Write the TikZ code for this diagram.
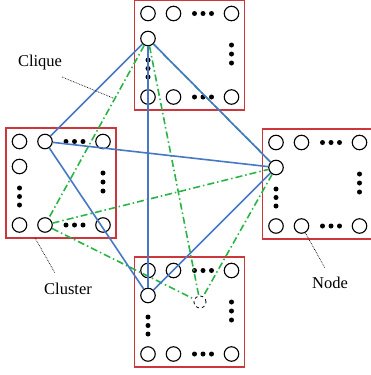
\documentclass[tikz,border=0pt]{standalone}
\usepackage{fontspec}
\setmainfont{Liberation Serif}
\definecolor{boxred}{RGB}{205,55,60}
\definecolor{eblue}{RGB}{70,120,195}
\definecolor{egreen}{RGB}{40,180,70}
\tikzset{
  cnode/.style={circle,draw=black,line width=1.1pt,minimum size=14.5pt,inner sep=0pt,fill=white},
  hidnode/.style={circle,draw=black,dashed,line width=0.8pt,minimum size=12pt,inner sep=0pt},
  dotn/.style={circle,fill=black,minimum size=5pt,inner sep=0pt},
  clbox/.style={draw=boxred,line width=1.4pt},
  bedge/.style={draw=eblue,line width=1.6pt},
  gedge/.style={draw=egreen,line width=1.6pt,dash pattern=on 7pt off 3pt on 1.5pt off 3pt},
  leader/.style={draw=black,densely dotted,line width=0.7pt},
  lbl/.style={font=\fontsize{16.5}{18}\selectfont,inner sep=0pt}
}
\newcommand{\mycluster}[3]{%
  \draw[clbox] (#2,#3) rectangle +(110,110);
  \foreach \dx in {60,68.5,77} {
    \node[dotn] at (#2+\dx,#3+13.5) {};
    \node[dotn] at (#2+\dx,#3+97) {};
  }
  \foreach \dy in {60,68.5,77} \node[dotn] at (#2+13.5,#3+\dy) {};
  \foreach \dy in {45,54,63} \node[dotn] at (#2+97,#3+\dy) {};
  \node[cnode] (#1-a) at (#2+13.5,#3+13.5) {};
  \node[cnode] (#1-b) at (#2+39,#3+13.5) {};
  \node[cnode] (#1-c) at (#2+97,#3+13.5) {};
  \node[cnode] (#1-d) at (#2+13.5,#3+38.5) {};
  \node[cnode] (#1-e) at (#2+13.5,#3+97) {};
  \node[cnode] (#1-f) at (#2+39,#3+97) {};
  \node[cnode] (#1-g) at (#2+97,#3+97) {};
}
\begin{document}
\begin{tikzpicture}[x=1pt,y=-1pt]
\useasboundingbox (0,0) rectangle (370,375);
\mycluster{T}{134.5}{0}
\mycluster{L}{6}{128}
\mycluster{R}{262.5}{129}
\mycluster{B}{134.5}{257}
\node[hidnode] (H) at (200,302) {};
% green clique
\draw[gedge] (T-d) -- (L-f);
\draw[gedge] (T-d) -- (R-d);
\draw[gedge] (T-d) -- (H);
\draw[gedge] (L-f) -- (R-d);
\draw[gedge] (L-f) -- (H);
\draw[gedge] (R-d) -- (H);
% blue clique
\draw[bedge] (T-d) -- (L-b);
\draw[bedge] (T-d) -- (R-d);
\draw[bedge] (T-d) -- (B-d);
\draw[bedge] (L-b) -- (R-d);
\draw[bedge] (L-b) -- (B-d);
\draw[bedge] (R-d) -- (B-d);
% labels
\node[lbl] (clq) at (40,63) {Clique};
\coordinate (clqa) at (62,77);
\coordinate (clqb) at (113,98);
\draw[leader] (clqa) -- (clqb);
\node[lbl] (cls) at (68,289) {Cluster};
\coordinate (clsa) at (35,238);
\coordinate (clsb) at (55,273);
\draw[leader] (clsa) -- (clsb);
\node[lbl] (nd) at (330,283) {Node};
\coordinate (nda) at (325,268);
\draw[leader] (R-f) -- (nda);
\end{tikzpicture}
\end{document}
